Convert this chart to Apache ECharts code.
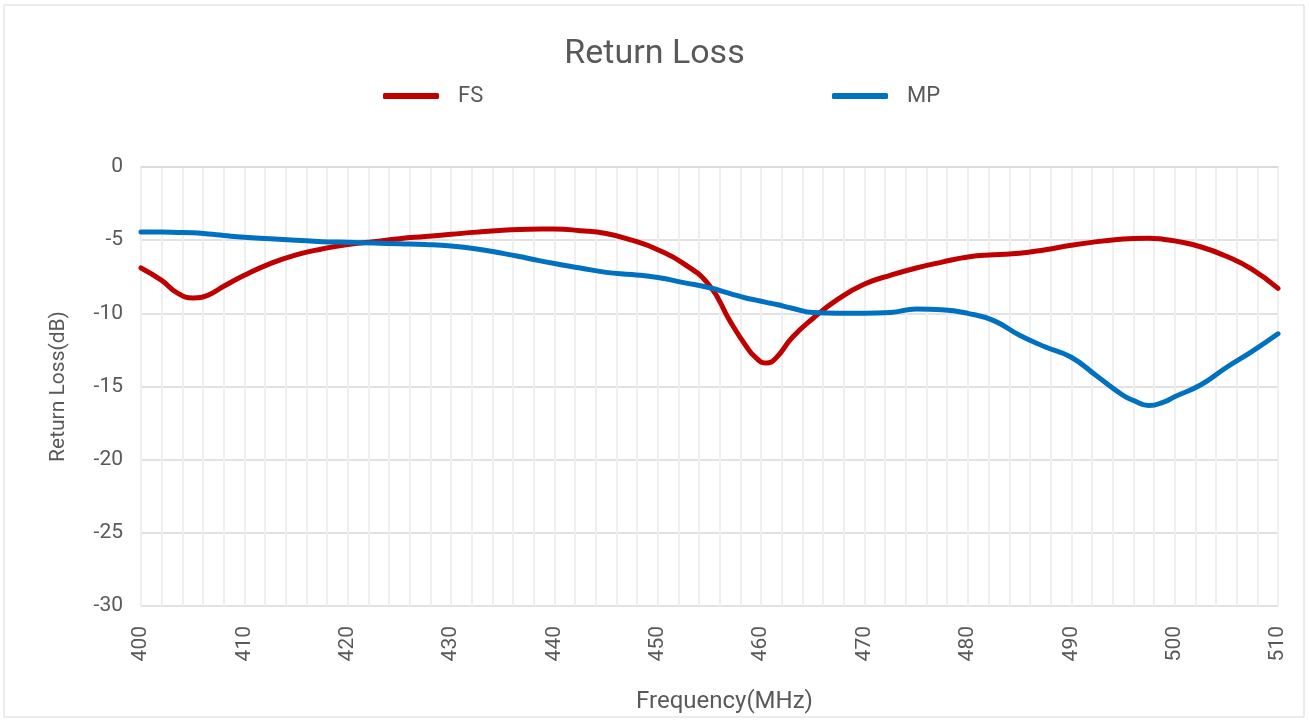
<!DOCTYPE html>
<html>
<head>
<meta charset="utf-8">
<title>Return Loss</title>
<script src="https://cdn.jsdelivr.net/npm/echarts@6/dist/echarts.min.js"></script>
<style>
    html, body { margin: 0; padding: 0; background: #fff; }
    #chart { width: 1309px; height: 722px; }
</style>
</head>
<body>
<div id="chart"></div>
<script>
// frequency points (MHz)
const freqs = [400, 402, 403.5, 405, 406.5, 408, 410, 412.5, 415, 417.5, 420, 422.5, 425, 427.5, 430, 432.5, 435, 437.5, 440, 442.5, 445, 447.5, 450, 452.5, 455, 457, 458.5, 459.5, 460.5, 461.5, 463, 465, 467.5, 470, 472.5, 475, 477.5, 480, 482.5, 485, 487.5, 490, 492.5, 495, 496, 497.5, 499, 500, 502.5, 505, 507.5, 510]

// return loss (dB)
const fsValues = [-6.9, -7.75, -8.6, -8.95, -8.75, -8.15, -7.4, -6.6, -6.0, -5.6, -5.3, -5.1, -4.9, -4.75, -4.6, -4.45, -4.33, -4.25, -4.24, -4.35, -4.55, -5.0, -5.65, -6.6, -8.1, -10.55, -12.2, -13.05, -13.4, -13.0, -11.65, -10.35, -9.0, -8.0, -7.4, -6.9, -6.5, -6.15, -6.0, -5.9, -5.65, -5.35, -5.1, -4.92, -4.88, -4.87, -4.95, -5.05, -5.45, -6.1, -7.0, -8.3]
const mpValues = [-4.45, -4.45, -4.47, -4.5, -4.58, -4.68, -4.8, -4.9, -5.0, -5.1, -5.15, -5.2, -5.25, -5.3, -5.4, -5.6, -5.9, -6.25, -6.6, -6.9, -7.2, -7.35, -7.55, -7.9, -8.25, -8.65, -8.95, -9.1, -9.25, -9.4, -9.65, -9.95, -10.0, -10.0, -9.95, -9.7, -9.75, -10.0, -10.5, -11.5, -12.3, -13.0, -14.3, -15.6, -15.95, -16.3, -16.05, -15.7, -14.9, -13.7, -12.6, -11.4]

const xTicks = [400, 410, 420, 430, 440, 450, 460, 470, 480, 490, 500, 510]
const yTicks = [0, -5, -10, -15, -20, -25, -30]

const textColor = '#595959'
const font = 'Roboto, sans-serif'

const myChart = echarts.init(document.getElementById('chart'))

const pairs = vals => freqs.map((f, i) => [f, vals[i]])

const option = {
    animation: false,
    textStyle: { fontFamily: font },
    graphic: [{
        type: 'rect',
        shape: { x: 4, y: 5, width: 1300, height: 712 },
        style: { fill: 'none', stroke: '#d9d9d9', lineWidth: 1 },
        silent: true
    }],
    title: {
        text: 'Return Loss',
        left: 'center',
        top: 32,
        textStyle: { color: textColor, fontSize: 34, fontWeight: 400, fontFamily: font }
    },
    legend: [{
        data: ['FS'],
        left: 378,
        top: 80,
        icon: 'roundRect',
        itemWidth: 56,
        itemHeight: 6,
        textStyle: { color: textColor, fontSize: 22, fontFamily: font, padding: [0, 0, 0, 14] }
    }, {
        data: ['MP'],
        left: 827,
        top: 80,
        icon: 'roundRect',
        itemWidth: 56,
        itemHeight: 6,
        textStyle: { color: textColor, fontSize: 22, fontFamily: font, padding: [0, 0, 0, 14] }
    }],
    grid: { left: 141, right: 31, top: 167, bottom: 116 },
    xAxis: {
        type: 'value',
        min: 400,
        max: 510,
        interval: 2,
        name: 'Frequency(MHz)',
        nameLocation: 'middle',
        nameGap: 84,
        nameTextStyle: { color: textColor, fontSize: 24, fontFamily: font, padding: [0, 0, 0, 30] },
        axisLine: { show: true, lineStyle: { color: '#d9d9d9', width: 1.5 } },
        axisTick: { show: false },
        splitLine: { show: true, lineStyle: { color: '#efefef', width: 2 } },
        axisLabel: {
            rotate: 90,
            margin: 20,
            color: textColor,
            fontSize: 21,
            fontFamily: font,
            formatter: v => xTicks.includes(v) ? String(v) : ''
        }
    },
    yAxis: {
        type: 'value',
        min: -30,
        max: 0,
        interval: 5,
        name: 'Return Loss(dB)',
        nameLocation: 'middle',
        nameGap: 72,
        nameTextStyle: { color: textColor, fontSize: 21, fontFamily: font },
        axisLine: { show: false },
        axisTick: { show: false },
        splitLine: { show: true, lineStyle: { color: '#d9d9d9', width: 1.5 } },
        axisLabel: {
            margin: 18,
            color: textColor,
            fontSize: 21,
            fontFamily: font,
            formatter: v => yTicks.includes(v) ? String(v) : ''
        }
    },
    series: [{
        name: 'FS',
        type: 'line',
        data: pairs(fsValues),
        smooth: 0.5,
        showSymbol: false,
        symbol: 'none',
        itemStyle: { color: '#c00000' },
        lineStyle: { color: '#c00000', width: 5, cap: 'round' }
    }, {
        name: 'MP',
        type: 'line',
        data: pairs(mpValues),
        smooth: 0.5,
        showSymbol: false,
        symbol: 'none',
        itemStyle: { color: '#0070c0' },
        lineStyle: { color: '#0070c0', width: 5, cap: 'round' }
    }]
}

myChart.setOption(option)
</script>
</body>
</html>
